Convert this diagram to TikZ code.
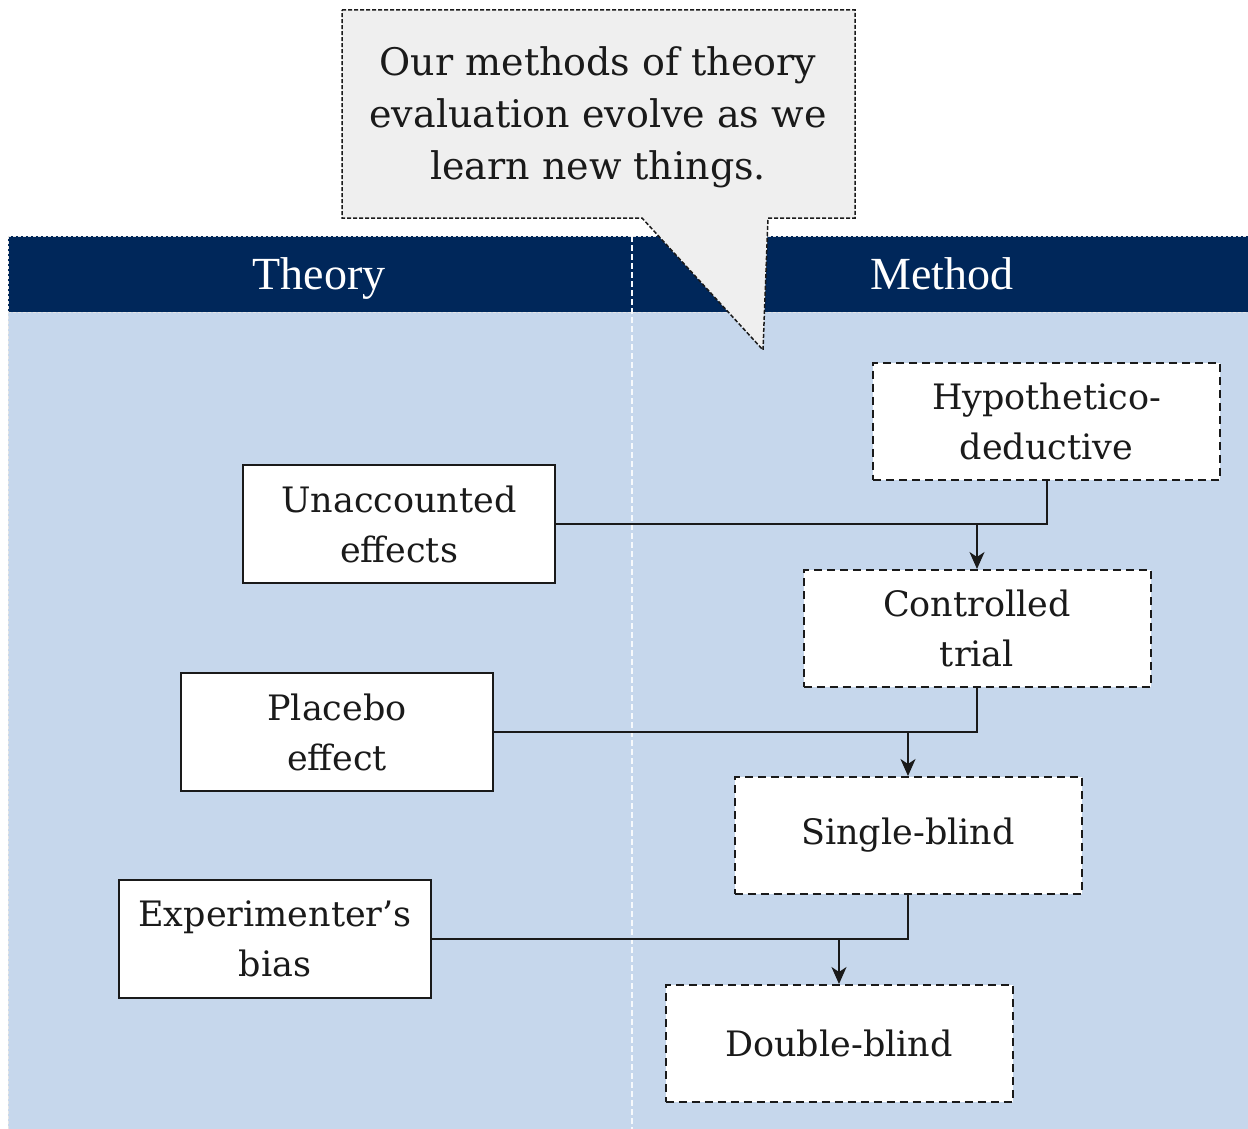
\documentclass[tikz,border=0pt]{standalone}
\usepackage{fontspec}
\setmainfont{DejaVu Serif}
\newfontfamily\headfont{Liberation Serif}
\usetikzlibrary{arrows.meta}
\definecolor{navy}{HTML}{00275A}
\definecolor{panel}{HTML}{C6D7EC}
\definecolor{callbg}{HTML}{EFEFEF}
\definecolor{inkc}{HTML}{1A1A1A}
\tikzset{
  solidbox/.style={draw=inkc, line width=2pt, fill=white, minimum width=312pt, minimum height=118pt, inner sep=0pt, align=center, font=\fontsize{35}{50}\selectfont, text=inkc},
  dashbox/.style={draw=inkc, line width=2pt, dash pattern=on 8pt off 5pt, fill=white, minimum width=347pt, minimum height=117pt, inner sep=0pt, align=center, font=\fontsize{35}{50}\selectfont, text=inkc},
  link/.style={draw=inkc, line width=2pt},
  arrowlink/.style={link, -{Stealth[length=17pt,width=15pt,inset=5pt]}},
  headtext/.style={text=white, anchor=base, inner sep=0pt, font=\headfont\fontsize{46}{50}\selectfont},
}
\begin{document}
\begin{tikzpicture}[x=1pt,y=-1pt]
\useasboundingbox (0,0) rectangle (1248,1129);
\fill[white] (0,0) rectangle (1248,1129);
% panel
\fill[panel] (8,236) rectangle (1248,1129);
\fill[navy] (8,236) rectangle (1248,312);
\draw[white!80!gray, line width=1pt, dash pattern=on 3pt off 2pt] (8,236) -- (1248,236);
\draw[white!80!gray, line width=1pt, dash pattern=on 3pt off 2pt] (8,312) -- (1248,312);
\draw[white!80!gray, line width=1pt, dash pattern=on 3pt off 2pt] (8,236) -- (8,1129);
\draw[white!85!panel, line width=1.2pt, dash pattern=on 6pt off 3pt] (632,236) -- (632,1129);
\node[headtext] (theory) at (319,289) {Theory};
\node[headtext] (method) at (942,289) {Method};
% callout
\draw[fill=callbg, draw=inkc, line width=1.5pt, dash pattern=on 4pt off 2pt]
  (342,10) -- (855,10) -- (855,218) -- (768,218) -- (763,350) -- (642,218) -- (342,218) -- cycle;
\node[align=center, text=inkc, font=\fontsize{38}{52}\selectfont] (callout) at (598,117)
  {Our methods of theory\\evaluation evolve as we\\learn new things.};
% theory boxes
\node[solidbox] (unacc) at (399,524) {Unaccounted\\effects};
\node[solidbox] (placebo) at (337,732) {Placebo\\effect};
\node[solidbox] (bias) at (275,939) {Experimenter’s\\bias};
% method boxes
\node[dashbox] (hypo) at (1046.5,421) {Hypothetico-\\deductive};
\node[dashbox] (ctrl) at (977,628.5) {Controlled\\trial};
\node[dashbox] (single) at (908,835.5) {Single-blind};
\node[dashbox] (double) at (839,1043.5) {Double-blind};
% connectors
\draw[link] (hypo.south) |- (unacc.east);
\draw[arrowlink] (ctrl.north |- unacc.east) -- (ctrl.north);
\draw[link] (ctrl.south) |- (placebo.east);
\draw[arrowlink] (single.north |- placebo.east) -- (single.north);
\draw[link] (single.south) |- (bias.east);
\draw[arrowlink] (double.north |- bias.east) -- (double.north);
\end{tikzpicture}
\end{document}
